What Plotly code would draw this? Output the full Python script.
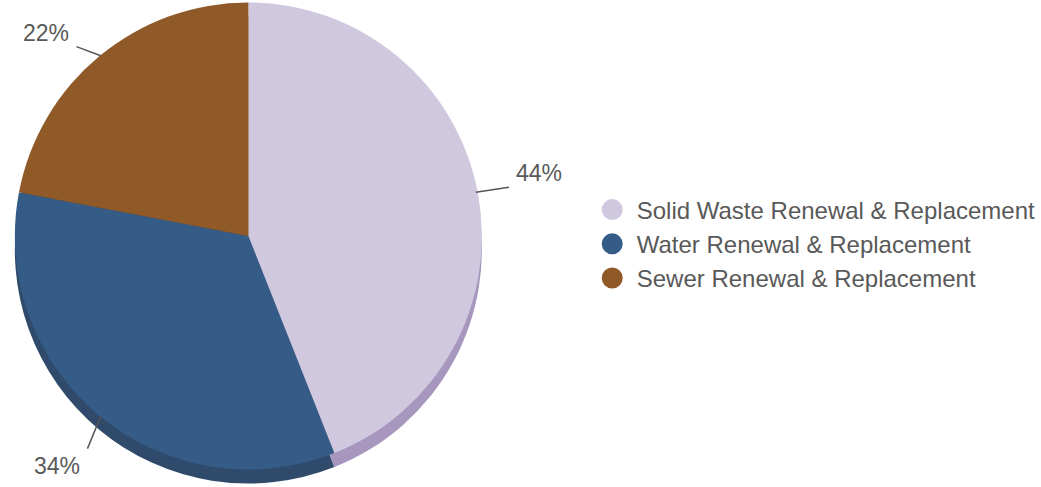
import math
import plotly.graph_objects as go

# ---- data ----
categories = ["Solid Waste Renewal & Replacement", "Water Renewal & Replacement", "Sewer Renewal & Replacement"]
shares = [44, 34, 22]
top_colors = ["#D0C8DF", "#355B87", "#8F5928"]
side_colors = ["#A797BE", "#2F4A6A", "#6E4420"]

# ---- layout constants (pixels) ----
W, H = 1041, 487
CX, CY, R = 251, 236, 236
DEPTH = 14
TEXT_COLOR = "#595959"
FONT = "Liberation Sans, Arial, sans-serif"
LABEL_NUDGE = [(8, 0), (10, 4), (-8, 11)]   # per-label pixel nudge of leader end + text


def dom(cx, cy, r):
    return dict(x=[(cx - r) / W, (cx + r) / W],
                y=[max(0.0, 1 - (cy + r) / H), min(1.0, 1 - (cy - r) / H)])


fig = go.Figure()

# side (depth) of the pie
fig.add_trace(go.Pie(
    labels=[c + " side" for c in categories], values=shares, sort=False,
    direction="clockwise", rotation=0, domain=dom(CX, CY + DEPTH, R),
    marker=dict(colors=side_colors, line=dict(width=0)),
    textinfo="none", hoverinfo="skip", showlegend=False,
))
# top face
fig.add_trace(go.Pie(
    labels=categories, values=shares, sort=False,
    direction="clockwise", rotation=0, domain=dom(CX, CY, R),
    marker=dict(colors=top_colors, line=dict(width=0)),
    textinfo="none", hoverinfo="label+percent", showlegend=False,
))

# legend entries with circle markers
for name, col in zip(categories, top_colors):
    fig.add_trace(go.Scatter(
        x=[None], y=[None], mode="markers", name=name,
        marker=dict(symbol="circle", size=16, color=col, line=dict(color=col, width=5)),
    ))

# percentage labels with leader lines
total = sum(shares)
cum = 0
for v, (nx, ny) in zip(shares, LABEL_NUDGE):
    mid = (cum + v / 2) / total * 2 * math.pi
    cum += v
    sx, sy = math.sin(mid), -math.cos(mid)
    hx, hy = CX + (R - 2) * sx, CY + (R - 2) * sy
    L = 26 + DEPTH * max(0.0, sy)
    ex, ey = hx + L * sx + nx, hy + L * sy + ny
    fig.add_shape(
        type="line", xref="paper", yref="paper",
        x0=hx / W, y0=1 - hy / H, x1=ex / W, y1=1 - ey / H,
        line=dict(color="#555555", width=1.5),
    )
    right = sx > 0
    upper = sy < 0
    fig.add_annotation(
        x=ex / W, y=1 - ey / H, xref="paper", yref="paper",
        xanchor="left" if right else "right", yanchor="middle",
        xshift=5 if right else -5, yshift=14 if upper else -17,
        text=f"{round(v / total * 100)}%", showarrow=False,
        font=dict(size=23, color=TEXT_COLOR, family=FONT),
    )

fig.update_layout(
    width=W, height=H, margin=dict(l=0, r=0, t=0, b=0),
    paper_bgcolor="white", plot_bgcolor="white",
    xaxis=dict(visible=False), yaxis=dict(visible=False),
    legend=dict(x=594 / W, y=1 - 244 / H, xanchor="left", yanchor="middle",
                font=dict(size=24, color=TEXT_COLOR, family=FONT),
                bgcolor="rgba(0,0,0,0)", tracegroupgap=0, itemwidth=39),
    showlegend=True,
)

fig.write_html("out.html", config={"displayModeBar": False},
               post_script="document.body.style.margin='0';")
